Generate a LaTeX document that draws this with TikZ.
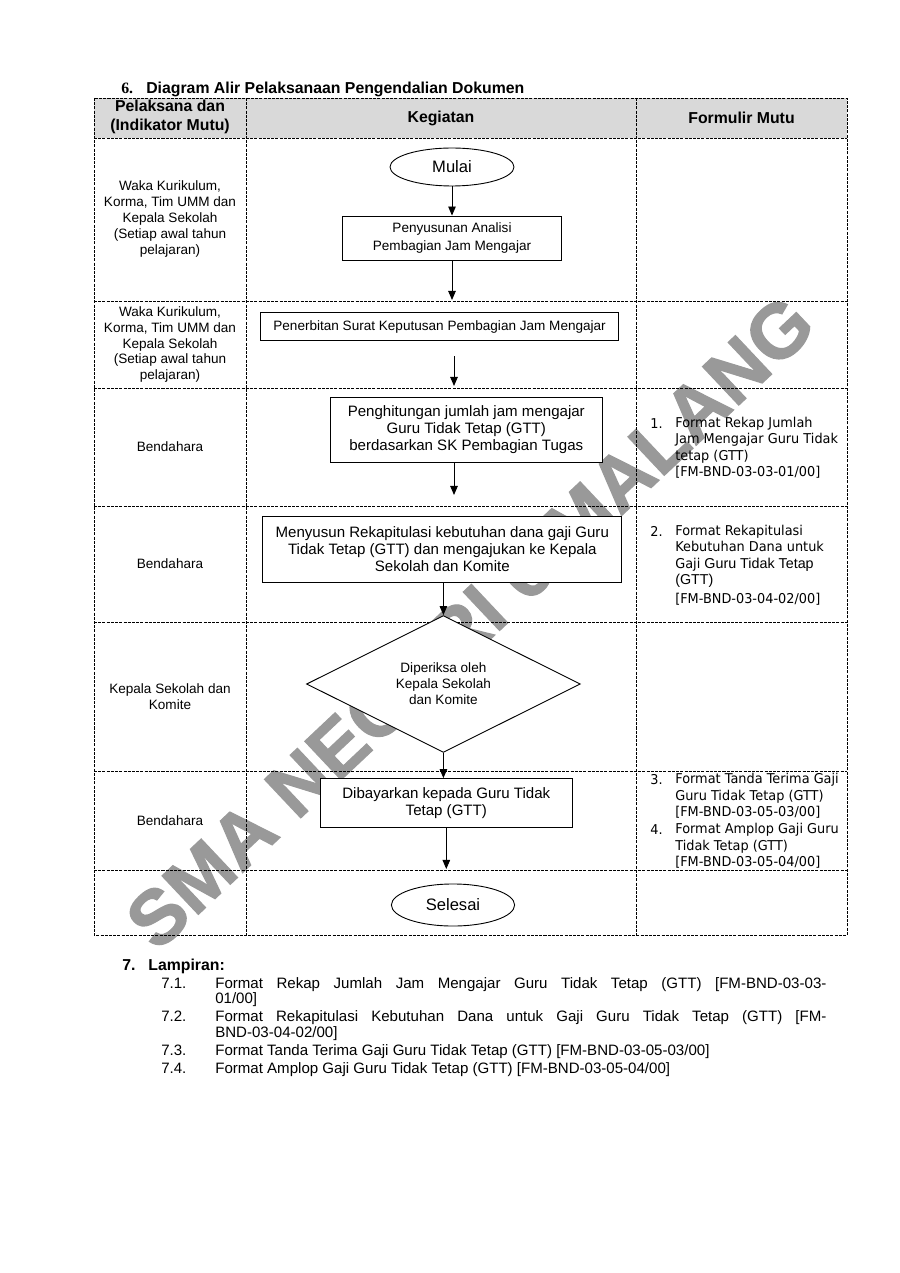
\documentclass[tikz,border=0pt]{standalone}
\usepackage{fontspec}
\setmainfont{Liberation Sans}
\newfontfamily\tahoma[FakeStretch=0.95]{DejaVu Sans}
\newfontfamily\serifbold{Liberation Serif}
\newfontfamily\wmfont[FakeBold=1.6]{Liberation Sans}
\usetikzlibrary{arrows.meta,shapes.geometric}

\tikzset{
  tablerule/.style={line width=0.6pt, dash pattern=on 2pt off 0.8pt},
  proc/.style={draw, fill=white, line width=0.6pt, align=center, inner sep=0pt},
  term/.style={proc, ellipse, font=\fontsize{11}{13}\selectfont},
  decide/.style={proc, diamond},
  who/.style={align=center, font=\fontsize{9}{10.5}\selectfont},
  head/.style={align=center, font=\bfseries\fontsize{10.5}{12.2}\selectfont},
  formno/.style={anchor=north west, inner sep=0pt, font=\tahoma\fontsize{9}{11}\selectfont,
    execute at begin node=\strut},
  formtext/.style={formno, align=left},
  lampno/.style={anchor=north west, inner sep=0pt, font=\fontsize{10}{10.4}\selectfont,
    execute at begin node=\strut},
  lampbody/.style={lampno, text width=405.7pt, align=justify},
  flow/.style={-{Triangle[width=5pt,length=6pt]}, line width=0.6pt},
  wmark/.style={rotate=43.3, text=black!40, inner sep=0pt,
    font=\wmfont\bfseries\fontsize{51}{60}\selectfont},
}

\begin{document}
\begin{tikzpicture}[x=0.2333mm, y=-0.2333mm]
  \useasboundingbox (0,0) rectangle (900,1273);

  % watermark behind everything
  \node[wmark] (wm) at (470,622) {SMA NEGERI 6 MALANG};

  \node[anchor=base west, inner sep=0pt, font=\bfseries\fontsize{10.5}{12}\selectfont] (title)
    at (121,94) {\makebox[16.6pt][l]{\serifbold 6.}Diagram Alir Pelaksanaan Pengendalian Dokumen};

  % table
  \fill[black!15] (94,98) rectangle (847,138);
  \draw[tablerule] (94,98) rectangle (847,935);
  \foreach \yy in {138,301,388,506,622,771,870}
    \draw[tablerule] (94,\yy) -- (847,\yy);
  \foreach \xx in {246,636}
    \draw[tablerule] (\xx,98) -- (\xx,935);

  \node[head] (hpel) at (170,117) {Pelaksana dan\\(Indikator Mutu)};
  \node[head] (hkeg) at (441,118) {Kegiatan};
  \node[head] (hform) at (741.5,118) {Formulir Mutu};

  % pelaksana
  \node[who] (p1) at (170,219) {Waka Kurikulum,\\Korma, Tim UMM dan\\Kepala Sekolah\\(Setiap awal tahun\\pelajaran)};
  \node[who] (p2) at (170,344.5) {Waka Kurikulum,\\Korma, Tim UMM dan\\Kepala Sekolah\\(Setiap awal tahun\\pelajaran)};
  \node[who] (p3) at (170,447) {Bendahara};
  \node[who] (p4) at (170,564) {Bendahara};
  \node[who] (p5) at (170,696.5) {Kepala Sekolah dan\\Komite};
  \node[who] (p6) at (170,820.5) {Bendahara};

  % kegiatan
  \node[term, minimum width=82.3pt, minimum height=25.2pt] (mulai) at (452,167) {Mulai};
  \node[proc, minimum width=145pt, minimum height=29.2pt, font=\fontsize{9}{12.2}\selectfont]
    (anal) at (452,238) {Penyusunan Analisi\\Pembagian Jam Mengajar};
  \node[proc, minimum width=237.8pt, minimum height=18.7pt, font=\fontsize{9}{11}\selectfont]
    (terbit) at (439.6,326.7) {Penerbitan Surat Keputusan Pembagian Jam Mengajar};
  \node[proc, minimum width=181pt, minimum height=42.8pt, font=\fontsize{10}{11.4}\selectfont]
    (hitung) at (466.3,429.8) {Penghitungan jumlah jam mengajar\\Guru Tidak Tetap (GTT)\\berdasarkan SK Pembagian Tugas};
  \node[proc, minimum width=238.3pt, minimum height=43.8pt, font=\fontsize{10}{11.2}\selectfont]
    (susun) at (442.3,549) {Menyusun Rekapitulasi kebutuhan dana gaji Guru\\Tidak Tetap (GTT) dan mengajukan ke Kepala\\Sekolah dan Komite};
  \node[decide, minimum width=181.7pt, minimum height=78pt, font=\fontsize{9}{10.6}\selectfont]
    (cek) at (443.4,684) {Diperiksa oleh\\Kepala Sekolah\\dan Komite};
  \node[proc, minimum width=167.2pt, minimum height=32.2pt, font=\fontsize{10}{11.2}\selectfont]
    (bayar) at (446.3,802.8) {Dibayarkan kepada Guru Tidak\\Tetap (GTT)};
  \node[term, minimum width=81.8pt, minimum height=27.9pt] (selesai) at (453,905) {Selesai};

  \coordinate (a1) at (452,300);
  \coordinate (a2) at (454,356);
  \coordinate (a3) at (454,386);
  \coordinate (a4) at (454,495);
  \coordinate (a5) at (446.3,869);

  \draw[flow] (mulai) -- (anal);
  \draw[flow] (anal) -- (a1);
  \draw[flow] (a2) -- (a3);
  \draw[flow] (a4 |- hitung.south) -- (a4);
  \draw[flow] (susun.south -| cek.north) -- (cek.north);
  \draw[flow] (cek.south) -- (cek.south |- bayar.north);
  \draw[flow] (bayar) -- (a5);

  % formulir mutu
  \node[formno] (n1) at (650,416.4) {1.};
  \node[formtext] (f1) at (675,416.4) {Format Rekap Jumlah\\Jam Mengajar Guru Tidak\\tetap (GTT)\\{}[FM-BND-03-03-01/00]};
  \node[formno] (n2) at (650,524.4) {2.};
  \node[formtext] (f2) at (675,524.4) {Format Rekapitulasi\\Kebutuhan Dana untuk\\Gaji {\rmfamily\fontsize{9.5}{11}\selectfont Guru Tidak Tetap}\\{\rmfamily\fontsize{9.5}{11}\selectfont (GTT)}\\[1.5pt]{}[FM-BND-03-04-02/00]};
  \node[formno] (n3) at (650,773) {3.};
  \node[formtext] (f3) at (675,773) {Format Tanda Terima Gaji\\Guru Tidak Tetap (GTT)\\{}[FM-BND-03-05-03/00]};
  \node[formno] (n4) at (650,823) {4.};
  \node[formtext] (f4) at (675,823) {Format Amplop Gaji Guru\\Tidak Tetap (GTT)\\{}[FM-BND-03-05-04/00]};

  % lampiran
  \node[anchor=base west, inner sep=0pt, font=\bfseries\fontsize{10.5}{12}\selectfont] (lamp)
    at (122,970) {\makebox[17.3pt][l]{7.}Lampiran:};
  \node[lampno] (l1n) at (161,976.8) {7.1.};
  \node[lampbody] (l1) at (215,976.8) {Format Rekap Jumlah Jam Mengajar Guru Tidak Tetap (GTT) [FM-BND-03-03-\linebreak 01/00]};
  \node[lampno] (l2n) at (161,1010.2) {7.2.};
  \node[lampbody] (l2) at (215,1010.2) {Format Rekapitulasi Kebutuhan Dana untuk Gaji Guru Tidak Tetap (GTT) [FM-\linebreak BND-03-04-02/00]};
  \node[lampno] (l3n) at (161,1043.8) {7.3.};
  \node[lampbody] (l3) at (215,1043.8) {Format Tanda Terima Gaji Guru Tidak Tetap (GTT) [FM-BND-03-05-03/00]};
  \node[lampno] (l4n) at (161,1061.8) {7.4.};
  \node[lampbody] (l4) at (215,1061.8) {Format Amplop Gaji Guru Tidak Tetap (GTT) [FM-BND-03-05-04/00]};
\end{tikzpicture}
\end{document}
